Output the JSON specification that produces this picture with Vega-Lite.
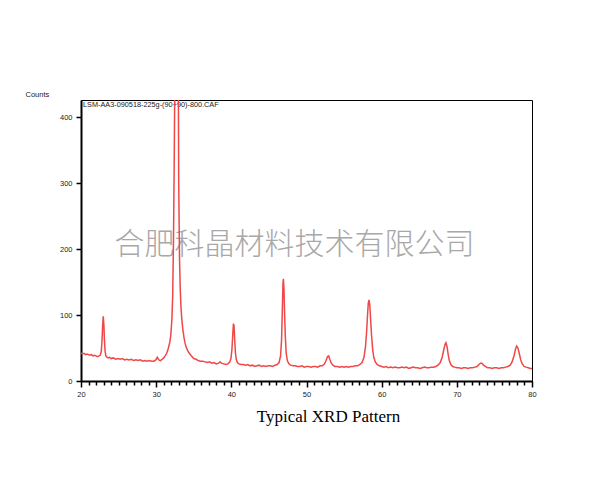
{
  "$schema": "https://vega.github.io/schema/vega-lite/v6.json",
  "width": 451,
  "height": 281,
  "autosize": {"type": "none"},
  "padding": {"left": 81, "top": 100, "right": 68, "bottom": 119},
  "background": "white",
  "resolve": {"axis": {"x": "independent", "y": "independent"}},
  "config": {
    "view": {"stroke": "black", "strokeWidth": 1},
    "axis": {
      "grid": false,
      "ticks": true,
      "domainColor": "black",
      "domainWidth": 2,
      "tickColor": "black",
      "tickWidth": 1.5,
      "tickOpacity": 1,
      "labelFont": "Liberation Sans",
      "labelFontSize": 7.5,
      "labelColor": "#222222",
      "titleFont": "Liberation Sans",
      "titleFontWeight": "normal",
      "titleColor": "#222222"
    }
  },
  "layer": [
    {
      "data": {"values": [{"t": "合肥科晶材料技术有限公司"}]},
      "mark": {"type": "text", "align": "center", "baseline": "middle", "fontSize": 30, "font": "Noto Sans CJK SC", "fontWeight": 200, "color": "#a8a8a8"},
      "encoding": {"x": {"datum": 48.4, "axis": null}, "y": {"datum": 206, "axis": null}, "text": {"field": "t"}}
    },
    {
      "data": {"values": [{"t": "LSM-AA3-090518-225g-(90+90)-800.CAF"}]},
      "mark": {"type": "text", "align": "left", "baseline": "top", "fontSize": 7.3, "font": "Liberation Sans", "color": "#222222", "dx": 2, "dy": 1},
      "encoding": {"x": {"datum": 20, "axis": null}, "y": {"datum": 426, "axis": null}, "text": {"field": "t"}}
    },
    {
      "data": {
        "values": [
          {"x": 20.0, "y": 42}, {"x": 20.2, "y": 41}, {"x": 20.4, "y": 42}, {"x": 20.6, "y": 40}, {"x": 20.8, "y": 41},
          {"x": 21.0, "y": 40}, {"x": 21.2, "y": 39}, {"x": 21.4, "y": 40}, {"x": 21.6, "y": 38}, {"x": 21.8, "y": 39},
          {"x": 22.0, "y": 38}, {"x": 22.2, "y": 37}, {"x": 22.4, "y": 38}, {"x": 22.55, "y": 39}, {"x": 22.7, "y": 45},
          {"x": 22.8, "y": 62}, {"x": 22.88, "y": 85}, {"x": 22.96, "y": 98}, {"x": 23.04, "y": 86}, {"x": 23.12, "y": 62},
          {"x": 23.2, "y": 46}, {"x": 23.3, "y": 38}, {"x": 23.45, "y": 36}, {"x": 23.6, "y": 35}, {"x": 23.8, "y": 36},
          {"x": 24.0, "y": 34}, {"x": 24.3, "y": 35}, {"x": 24.6, "y": 33}, {"x": 24.9, "y": 34}, {"x": 25.2, "y": 33},
          {"x": 25.5, "y": 34}, {"x": 25.8, "y": 32}, {"x": 26.1, "y": 33}, {"x": 26.4, "y": 32}, {"x": 26.7, "y": 33},
          {"x": 27.0, "y": 31}, {"x": 27.3, "y": 32}, {"x": 27.6, "y": 31}, {"x": 27.9, "y": 32}, {"x": 28.2, "y": 30},
          {"x": 28.5, "y": 31}, {"x": 28.8, "y": 30}, {"x": 29.1, "y": 31}, {"x": 29.4, "y": 30}, {"x": 29.7, "y": 30},
          {"x": 29.95, "y": 32}, {"x": 30.15, "y": 36}, {"x": 30.35, "y": 32}, {"x": 30.6, "y": 31}, {"x": 30.8, "y": 33},
          {"x": 31.0, "y": 35}, {"x": 31.2, "y": 38}, {"x": 31.4, "y": 42}, {"x": 31.6, "y": 49}, {"x": 31.8, "y": 58},
          {"x": 31.95, "y": 70}, {"x": 32.1, "y": 95}, {"x": 32.2, "y": 130}, {"x": 32.3, "y": 210}, {"x": 32.4, "y": 330},
          {"x": 32.5, "y": 490}, {"x": 32.6, "y": 680}, {"x": 32.7, "y": 790}, {"x": 32.8, "y": 740}, {"x": 32.9, "y": 600},
          {"x": 33.0, "y": 300}, {"x": 33.1, "y": 190}, {"x": 33.2, "y": 140}, {"x": 33.3, "y": 112}, {"x": 33.4, "y": 95},
          {"x": 33.55, "y": 78}, {"x": 33.7, "y": 66}, {"x": 33.85, "y": 57}, {"x": 34.0, "y": 51}, {"x": 34.2, "y": 46},
          {"x": 34.4, "y": 42}, {"x": 34.7, "y": 38}, {"x": 35.0, "y": 34}, {"x": 35.3, "y": 33}, {"x": 35.6, "y": 31},
          {"x": 35.9, "y": 30}, {"x": 36.2, "y": 30}, {"x": 36.5, "y": 29}, {"x": 36.8, "y": 28}, {"x": 37.1, "y": 29},
          {"x": 37.4, "y": 27}, {"x": 37.7, "y": 28}, {"x": 38.0, "y": 26}, {"x": 38.3, "y": 27}, {"x": 38.5, "y": 29},
          {"x": 38.7, "y": 27}, {"x": 39.0, "y": 26}, {"x": 39.3, "y": 25}, {"x": 39.55, "y": 26}, {"x": 39.8, "y": 29},
          {"x": 39.95, "y": 34}, {"x": 40.08, "y": 48}, {"x": 40.18, "y": 68}, {"x": 40.28, "y": 87}, {"x": 40.36, "y": 84},
          {"x": 40.45, "y": 62}, {"x": 40.55, "y": 42}, {"x": 40.65, "y": 33}, {"x": 40.8, "y": 28}, {"x": 41.0, "y": 26},
          {"x": 41.3, "y": 25}, {"x": 41.6, "y": 25}, {"x": 41.9, "y": 24}, {"x": 42.2, "y": 25}, {"x": 42.5, "y": 23},
          {"x": 42.8, "y": 24}, {"x": 43.1, "y": 22}, {"x": 43.4, "y": 23}, {"x": 43.7, "y": 24}, {"x": 44.0, "y": 22},
          {"x": 44.3, "y": 23}, {"x": 44.6, "y": 22}, {"x": 44.9, "y": 23}, {"x": 45.2, "y": 23}, {"x": 45.5, "y": 22},
          {"x": 45.8, "y": 24}, {"x": 46.1, "y": 25}, {"x": 46.35, "y": 28}, {"x": 46.55, "y": 38}, {"x": 46.68, "y": 62},
          {"x": 46.78, "y": 105}, {"x": 46.87, "y": 148}, {"x": 46.93, "y": 155}, {"x": 47.0, "y": 140}, {"x": 47.08, "y": 105},
          {"x": 47.18, "y": 68}, {"x": 47.3, "y": 42}, {"x": 47.45, "y": 31}, {"x": 47.65, "y": 26}, {"x": 47.9, "y": 24},
          {"x": 48.2, "y": 23}, {"x": 48.5, "y": 23}, {"x": 48.8, "y": 22}, {"x": 49.1, "y": 22}, {"x": 49.4, "y": 23},
          {"x": 49.7, "y": 21}, {"x": 50.0, "y": 22}, {"x": 50.3, "y": 22}, {"x": 50.6, "y": 21}, {"x": 50.9, "y": 22},
          {"x": 51.2, "y": 22}, {"x": 51.5, "y": 21}, {"x": 51.8, "y": 23}, {"x": 52.1, "y": 23}, {"x": 52.4, "y": 26},
          {"x": 52.6, "y": 31}, {"x": 52.8, "y": 37}, {"x": 52.95, "y": 38}, {"x": 53.1, "y": 33}, {"x": 53.3, "y": 27},
          {"x": 53.5, "y": 24}, {"x": 53.8, "y": 22}, {"x": 54.1, "y": 22}, {"x": 54.4, "y": 21}, {"x": 54.7, "y": 22},
          {"x": 55.0, "y": 21}, {"x": 55.3, "y": 22}, {"x": 55.6, "y": 21}, {"x": 55.9, "y": 22}, {"x": 56.2, "y": 22},
          {"x": 56.5, "y": 23}, {"x": 56.8, "y": 23}, {"x": 57.1, "y": 25}, {"x": 57.4, "y": 28}, {"x": 57.65, "y": 36},
          {"x": 57.85, "y": 52}, {"x": 58.0, "y": 75}, {"x": 58.12, "y": 100}, {"x": 58.22, "y": 118}, {"x": 58.32, "y": 123},
          {"x": 58.42, "y": 115}, {"x": 58.52, "y": 95}, {"x": 58.65, "y": 70}, {"x": 58.8, "y": 48}, {"x": 58.95, "y": 36},
          {"x": 59.15, "y": 29}, {"x": 59.4, "y": 25}, {"x": 59.7, "y": 23}, {"x": 60.0, "y": 22}, {"x": 60.3, "y": 21},
          {"x": 60.6, "y": 22}, {"x": 60.9, "y": 20}, {"x": 61.2, "y": 21}, {"x": 61.5, "y": 20}, {"x": 61.8, "y": 21},
          {"x": 62.1, "y": 20}, {"x": 62.4, "y": 20}, {"x": 62.7, "y": 21}, {"x": 63.0, "y": 20}, {"x": 63.3, "y": 21},
          {"x": 63.6, "y": 19}, {"x": 63.9, "y": 20}, {"x": 64.2, "y": 21}, {"x": 64.5, "y": 20}, {"x": 64.8, "y": 20},
          {"x": 65.1, "y": 19}, {"x": 65.4, "y": 20}, {"x": 65.7, "y": 21}, {"x": 66.0, "y": 20}, {"x": 66.3, "y": 20},
          {"x": 66.6, "y": 21}, {"x": 66.9, "y": 21}, {"x": 67.2, "y": 22}, {"x": 67.5, "y": 24}, {"x": 67.8, "y": 28},
          {"x": 68.05, "y": 36}, {"x": 68.25, "y": 47}, {"x": 68.45, "y": 56}, {"x": 68.55, "y": 58}, {"x": 68.7, "y": 52},
          {"x": 68.85, "y": 40}, {"x": 69.0, "y": 31}, {"x": 69.2, "y": 25}, {"x": 69.45, "y": 22}, {"x": 69.7, "y": 21},
          {"x": 70.0, "y": 20}, {"x": 70.3, "y": 20}, {"x": 70.6, "y": 19}, {"x": 70.9, "y": 20}, {"x": 71.2, "y": 20},
          {"x": 71.5, "y": 19}, {"x": 71.8, "y": 20}, {"x": 72.1, "y": 20}, {"x": 72.4, "y": 21}, {"x": 72.7, "y": 22},
          {"x": 72.95, "y": 25}, {"x": 73.15, "y": 27}, {"x": 73.35, "y": 27}, {"x": 73.55, "y": 24}, {"x": 73.8, "y": 22},
          {"x": 74.1, "y": 20}, {"x": 74.4, "y": 20}, {"x": 74.7, "y": 19}, {"x": 75.0, "y": 20}, {"x": 75.3, "y": 20},
          {"x": 75.6, "y": 19}, {"x": 75.9, "y": 20}, {"x": 76.2, "y": 20}, {"x": 76.5, "y": 21}, {"x": 76.8, "y": 22},
          {"x": 77.1, "y": 24}, {"x": 77.35, "y": 29}, {"x": 77.6, "y": 38}, {"x": 77.8, "y": 48}, {"x": 77.95, "y": 53},
          {"x": 78.1, "y": 51}, {"x": 78.3, "y": 42}, {"x": 78.5, "y": 32}, {"x": 78.7, "y": 26}, {"x": 78.95, "y": 22},
          {"x": 79.2, "y": 21}, {"x": 79.5, "y": 20}, {"x": 79.75, "y": 19}, {"x": 80.0, "y": 19}
        ]
      },
      "mark": {"type": "line", "color": "#ef4848", "strokeWidth": 1.5, "clip": true},
      "encoding": {
        "x": {
          "field": "x",
          "type": "quantitative",
          "scale": {"domain": [20, 80], "nice": false, "zero": false},
          "axis": {
            "orient": "bottom",
            "ticks": true,
            "title": "Typical XRD Pattern",
            "titleFont": "Liberation Serif",
            "titleFontSize": 17,
            "titleColor": "black",
            "titleX": 247,
            "titleY": 35,
            "titleAlign": "center",
            "titleBaseline": "middle",
            "values": [20,21,22,23,24,25,26,27,28,29,30,31,32,33,34,35,36,37,38,39,40,41,42,43,44,45,46,47,48,49,50,51,52,53,54,55,56,57,58,59,60,61,62,63,64,65,66,67,68,69,70,71,72,73,74,75,76,77,78,79,80],
            "labelExpr": "datum.value % 10 === 0 ? datum.label : ''",
            "labelOverlap": false,
            "labelFlush": false,
            "labelPadding": 3,
            "tickSize": {"condition": {"test": "datum.value % 10 === 0", "value": 6}, "value": 4},
            "tickWidth": 1.5,
            "tickColor": "black"
          }
        },
        "y": {
          "field": "y",
          "type": "quantitative",
          "scale": {"domain": [0, 426], "nice": false},
          "axis": {
            "orient": "left",
            "ticks": true,
            "title": "Counts",
            "titleAngle": 0,
            "titleFontSize": 7.5,
            "titleX": -56,
            "titleY": -6,
            "titleAlign": "left",
            "titleBaseline": "middle",
            "values": [0, 100, 200, 300, 400],
            "tickSize": 5,
            "tickWidth": 1.5,
            "tickColor": "black",
            "labelPadding": 4
          }
        }
      }
    }
  ]
}
